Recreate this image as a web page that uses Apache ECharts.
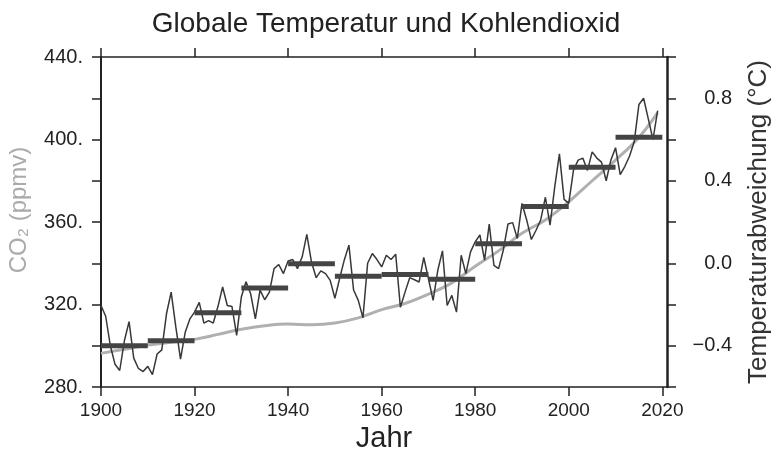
<!DOCTYPE html>
<html>
<head>
<meta charset="utf-8">
<script src="https://cdn.jsdelivr.net/npm/echarts@6/dist/echarts.min.js"></script>
<style>
html,body{margin:0;padding:0;background:#fff;}
#chart{width:772px;height:457px;}
</style>
</head>
<body>
<div id="chart"></div>
<script>
// ---- Data ----
const tempYears = [];
for (let y = 1900; y <= 2019; y++) tempYears.push(y);
const tempValues = [
  -0.205,-0.257,-0.40,-0.49,-0.52,-0.376,-0.283,-0.46,-0.51,-0.525,
  -0.50,-0.54,-0.44,-0.42,-0.245,-0.14,-0.31,-0.465,-0.335,-0.27,
  -0.237,-0.19,-0.29,-0.278,-0.29,-0.21,-0.115,-0.205,-0.21,-0.35,
  -0.164,-0.09,-0.148,-0.27,-0.13,-0.177,-0.14,-0.026,-0.006,-0.05,
  0.011,0.018,-0.026,0.03,0.14,0.006,-0.07,-0.037,-0.05,-0.083,
  -0.17,-0.075,0.015,0.088,-0.13,-0.18,-0.265,0.0,0.047,0.018,
  -0.018,0.039,0.018,0.044,-0.213,-0.14,-0.07,-0.08,-0.091,0.028,
  -0.075,-0.18,-0.034,0.06,-0.205,-0.156,-0.237,0.039,-0.05,0.055,
  0.104,0.137,0.015,0.19,-0.01,-0.026,0.063,0.19,0.197,0.12,
  0.29,0.21,0.115,0.16,0.21,0.32,0.185,0.37,0.53,0.31,
  0.29,0.45,0.50,0.51,0.45,0.54,0.51,0.49,0.40,0.50,
  0.56,0.43,0.47,0.52,0.59,0.77,0.80,0.70,0.60,0.74
];
const co2Years = [1900,1905,1910,1915,1920,1925,1930,1935,1940,1945,1950,1955,1960,1965,1970,1975,1980,1985,1990,1995,2000,2005,2010,2015,2019];
const co2Values = [296.3,298.3,300.3,301.7,303.1,305.5,308,309.7,310.5,310.2,311,313.5,317.5,320.5,325,330.5,338.5,346,354.5,361,369.8,380,390,401,413];
const decadeStart = [1900,1910,1920,1930,1940,1950,1960,1970,1980,1990,2000,2010];
const decadeEnd   = [1910,1920,1930,1940,1950,1960,1970,1980,1990,2000,2010,2020];
const decadeMean  = [-0.40,-0.376,-0.24,-0.12,-0.003,-0.063,-0.054,-0.077,0.094,0.275,0.465,0.611];
const xTicks = [1900,1920,1940,1960,1980,2000,2020];

// ---- Chart ----
const FONT = "'Liberation Sans', Arial, Helvetica, sans-serif";
const chart = echarts.init(document.getElementById('chart'), null, {renderer:'canvas'});
const axisCol = '#222';

const option = {
  backgroundColor:'#fff',
  animation:false,
  textStyle:{fontFamily:FONT},
  title:{
    text:'Globale Temperatur und Kohlendioxid',
    left:'center', top:5,
    textStyle:{fontFamily:FONT, fontSize:28, fontWeight:'normal', color:'#222'}
  },
  grid:{left:101, right:105, top:57, bottom:70, containLabel:false, outerBoundsMode:'none'},
  xAxis:[
    {
      type:'value', min:1900, max:2021, position:'bottom',
      name:'Jahr', nameLocation:'middle', nameGap:35,
      nameTextStyle:{fontFamily:FONT, fontSize:29, color:'#222'},
      axisLine:{show:true, onZero:false, lineStyle:{color:axisCol, width:1.5}},
      axisTick:{show:true, inside:false, length:9, customValues:xTicks, lineStyle:{color:axisCol, width:1.5}},
      axisLabel:{customValues:xTicks, margin:14, fontFamily:FONT, fontSize:19, color:'#222',
        formatter:function(v){ return String(Math.round(v)); }},
      splitLine:{show:false}
    },
    {
      type:'value', min:1900, max:2021, position:'top',
      axisLine:{show:true, onZero:false, lineStyle:{color:axisCol, width:1.5}},
      axisTick:{show:true, inside:false, length:9, customValues:xTicks, lineStyle:{color:axisCol, width:1.5}},
      axisLabel:{show:false},
      splitLine:{show:false}
    }
  ],
  yAxis:[
    {
      type:'value', min:280, max:440, interval:20, position:'left',
      name:'CO\u2082 (ppmv)', nameLocation:'middle', nameGap:70, nameRotate:90,
      nameTextStyle:{fontFamily:FONT, fontSize:24, color:'#aaaaaa', padding:[0,0,0,24]},
      axisLine:{show:true, onZero:false, lineStyle:{color:axisCol, width:2}},
      axisTick:{show:true, inside:false, length:9, lineStyle:{color:axisCol, width:1.5}},
      axisLabel:{margin:18, fontFamily:FONT, fontSize:20, color:'#222',
        formatter:function(v){ return (Math.round(v) % 40 === 0) ? (Math.round(v) + '.') : ''; }},
      splitLine:{show:false}
    },
    {
      type:'value', min:-0.6, max:1.0, interval:0.2, position:'right',
      name:'Temperaturabweichung (\u00B0C)', nameLocation:'middle', nameGap:79, nameRotate:90,
      nameTextStyle:{fontFamily:FONT, fontSize:26, color:'#333'},
      axisLine:{show:true, onZero:false, lineStyle:{color:axisCol, width:2.5}},
      axisTick:{show:true, inside:false, length:9, lineStyle:{color:axisCol, width:1.5}},
      axisLabel:{margin:65, align:'right', fontFamily:FONT, fontSize:20, color:'#222',
        formatter:function(v){
          const k = Math.round(v*10);
          if (Math.abs(k) % 4 !== 0) return '';
          const s = (k/10).toFixed(1);
          return s.replace('-', '\u2212');
        }},
      splitLine:{show:false}
    }
  ],
  series:[
    {
      name:'CO2', type:'line', xAxisIndex:0, yAxisIndex:0,
      data: co2Years.map((y,i)=>[y, co2Values[i]]),
      smooth:0.4, showSymbol:false, symbol:'none',
      lineStyle:{color:'#b0b0b0', width:3}, z:2
    },
    {
      name:'Temperatur', type:'line', xAxisIndex:0, yAxisIndex:1,
      data: tempYears.map((y,i)=>[y, tempValues[i]]),
      showSymbol:false, symbol:'none',
      lineStyle:{color:'#383838', width:1.5}, z:3
    },
    {
      name:'Dekaden', type:'custom', xAxisIndex:0, yAxisIndex:1,
      data: decadeStart.map((s,i)=>[s, decadeEnd[i], decadeMean[i]]),
      encode:{x:[0,1], y:2},
      renderItem:function(params, api){
        const a = api.coord([api.value(0), api.value(2)]);
        const b = api.coord([api.value(1), api.value(2)]);
        return {type:'line', shape:{x1:a[0], y1:a[1], x2:b[0], y2:b[1]},
          style:{stroke:'#444', lineWidth:5, lineCap:'butt'}};
      },
      z:4
    }
  ]
};
chart.setOption(option);
</script>
</body>
</html>
